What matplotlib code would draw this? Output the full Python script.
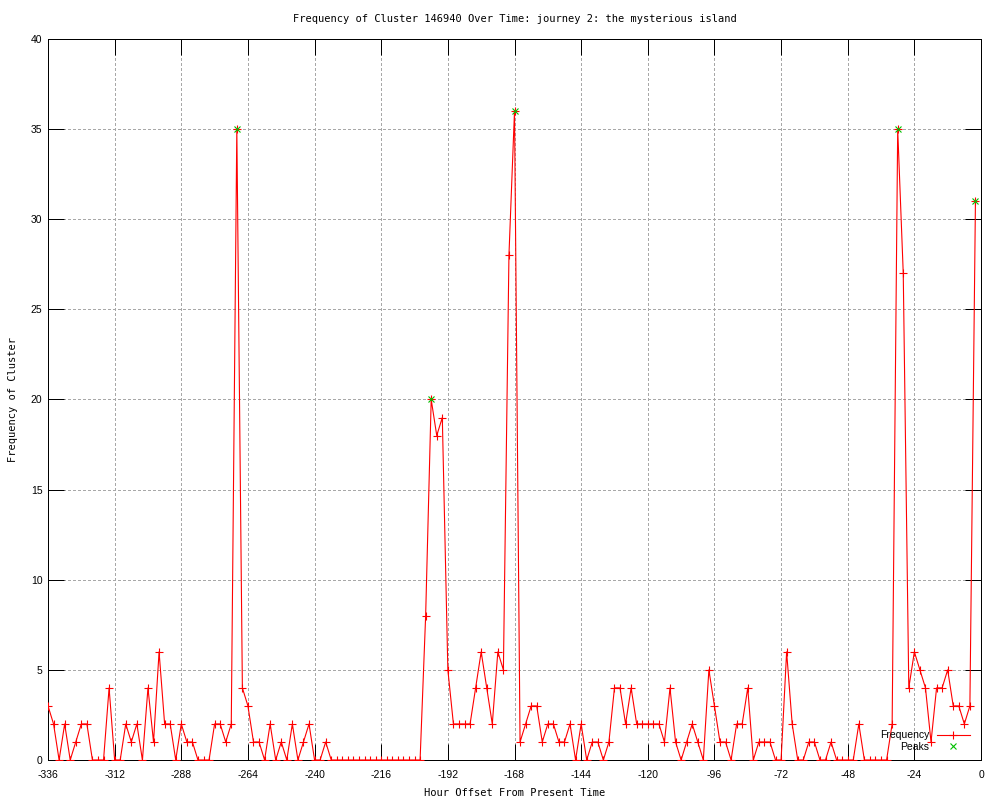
import matplotlib
matplotlib.use("Agg")
import matplotlib.pyplot as plt

plt.rcParams["axes.unicode_minus"] = False

# ---- data ----
hours = list(range(-336, 0, 2))
frequency = [
    3, 2, 0, 2, 0, 1, 2, 2, 0, 0,
    0, 4, 0, 0, 2, 1, 2, 0, 4, 1,
    6, 2, 2, 0, 2, 1, 1, 0, 0, 0,
    2, 2, 1, 2, 35, 4, 3, 1, 1, 0,
    2, 0, 1, 0, 2, 0, 1, 2, 0, 0,
    1, 0, 0, 0, 0, 0, 0, 0, 0, 0,
    0, 0, 0, 0, 0, 0, 0, 0, 8, 20,
    18, 19, 5, 2, 2, 2, 2, 4, 6, 4,
    2, 6, 5, 28, 36, 1, 2, 3, 3, 1,
    2, 2, 1, 1, 2, 0, 2, 0, 1, 1,
    0, 1, 4, 4, 2, 4, 2, 2, 2, 2,
    2, 1, 4, 1, 0, 1, 2, 1, 0, 5,
    3, 1, 1, 0, 2, 2, 4, 0, 1, 1,
    1, 0, 0, 6, 2, 0, 0, 1, 1, 0,
    0, 1, 0, 0, 0, 0, 2, 0, 0, 0,
    0, 0, 2, 35, 27, 4, 6, 5, 4, 1,
    4, 4, 5, 3, 3, 2, 3, 31,
]
peak_hours = [-268, -198, -168, -30, -2]
peak_values = [35, 20, 36, 35, 31]
x_ticks = list(range(-336, 1, 24))
y_ticks = list(range(0, 41, 5))

title = "Frequency of Cluster 146940 Over Time: journey 2: the mysterious island"
xlabel = "Hour Offset From Present Time"
ylabel = "Frequency of Cluster"

W, H = 1000, 800
fig = plt.figure(figsize=(W / 100, H / 100), dpi=100)
L, R, T, B = 48, 981, 39, 760
ax = fig.add_axes([L / W, 1 - B / H, (R - L) / W, (B - T) / H])

px = 0.72  # one pixel in points
ax.plot(hours, frequency, color="#ff0000", lw=0.8, marker="+", ms=5.8,
        mew=0.8, label="Frequency", zorder=3)
ax.plot(peak_hours, peak_values, ls="none", color="#00c000", marker="x",
        ms=5.0, mew=0.8, label="Peaks", zorder=4)

ax.set_xlim(-336, 0)
ax.set_ylim(0, 40)
ax.set_xticks(x_ticks)
ax.set_yticks(y_ticks)

mono = ["DejaVu Sans Mono"]
sans = ["Liberation Sans", "DejaVu Sans"]
for lab in ax.get_xticklabels() + ax.get_yticklabels():
    lab.set_fontfamily(sans)
    lab.set_fontsize(7.5)

ax.tick_params(axis="both", direction="in", length=11.5, width=px,
               top=True, right=True, color="black")
ax.tick_params(axis="x", pad=7)
ax.tick_params(axis="y", pad=4)

ax.grid(True, color="#a8a8a8", lw=px, linestyle=(0, (2.8, 2.8)),
        antialiased=False, zorder=0)
ax.set_axisbelow(True)
for s in ax.spines.values():
    s.set_linewidth(px)
    s.set_color("black")

fig.text((L + R) / 2 / W, 1 - 19 / H, title, ha="center", va="center",
         family=mono, fontsize=7.5)
fig.text((L + R) / 2 / W, 1 - 793 / H, xlabel, ha="center", va="center",
         family=mono, fontsize=7.5)
fig.text(13 / W, 1 - 400 / H, ylabel, ha="center", va="center",
         rotation=90, family=mono, fontsize=7.5)

leg = ax.legend(loc="lower right", bbox_to_anchor=((970 - L) / (R - L), (B - 752) / (B - T)),
                frameon=False, markerfirst=False, handlelength=3.2,
                handletextpad=0.7, labelspacing=0.15, borderpad=0,
                borderaxespad=0, prop={"family": sans, "size": 7.5})

fig.savefig("out.png", dpi=100)
